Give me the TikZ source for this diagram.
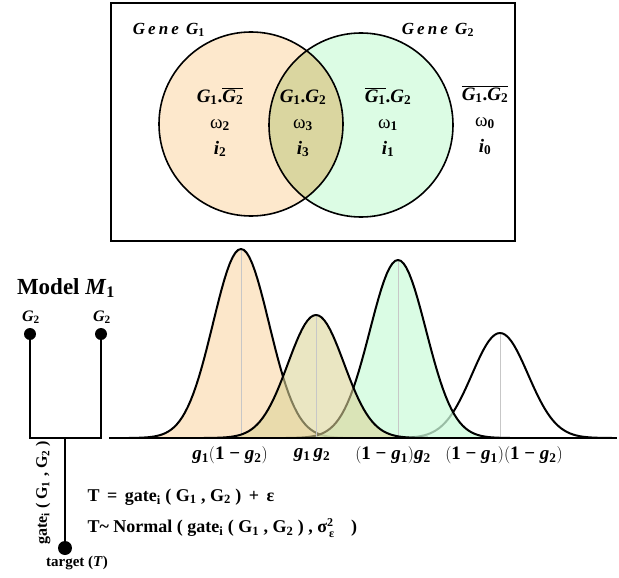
\documentclass[tikz,border=0pt]{standalone}
\usepackage{fontspec}
\setmainfont{Liberation Serif}
\usetikzlibrary{positioning}
\definecolor{peach}{RGB}{253,232,204}
\definecolor{mint}{RGB}{220,252,228}
\definecolor{olivemix}{RGB}{218,214,160}
\definecolor{bellpeach}{RGB}{252,231,202}
\definecolor{bellolive}{RGB}{220,212,152}
\definecolor{bellmint}{RGB}{205,251,219}
\newcommand{\bi}[1]{\textbf{\textit{#1}}}
\newcommand{\Gs}[1]{\bi{G}\textsubscript{\textup{\textbf{#1}}}}
\newcommand{\gs}[1]{\bi{g}\textsubscript{\textup{\textbf{#1}}}}
\newcommand{\opn}{$\bigl($}
\newcommand{\cls}{$\bigr)$}
\newcommand{\smallbf}{\fontsize{12}{12}\selectfont\bfseries}
\newcommand{\bellcurve}[3]{%
  \fill[#3] plot[variable=\t,domain=-4:4,samples=81] ({#1+28*\t},{438-#2*exp(-0.5*\t*\t)}) -- cycle;
  \draw[peak] (#1,438) -- (#1,{438-#2});
  \draw[bell] plot[variable=\t,domain=-4:4,samples=81] ({#1+28*\t},{438-#2*exp(-0.5*\t*\t)});}

\begin{document}
\begin{tikzpicture}[x=1pt,y=-1pt,
   ring/.style={line width=1.6pt},
   bell/.style={line width=2pt,line join=round},
   peak/.style={black!22,line width=0.6pt},
   tree/.style={line width=2.4pt},
   dot/.style={circle,fill=black,inner sep=0pt,minimum size=12pt},
   gene/.style={font=\fontsize{17}{19}\selectfont\bfseries\itshape\addfontfeatures{LetterSpace=18}},
   region/.style={font=\fontsize{19}{26}\selectfont\bfseries,align=center,anchor=base},
   tick/.style={font=\fontsize{19}{21}\selectfont\bfseries},
   eqn/.style={font=\fontsize{18}{20}\selectfont\bfseries,anchor=west}]
  \useasboundingbox (0,0) rectangle (619,578);

  \draw[ring] (111,3) rectangle (515,241);
  \fill[peach] (251,124) circle (92pt);
  \fill[mint] (361,125) circle (92pt);
  \begin{scope}
    \clip (251,124) circle (92pt);
    \fill[olivemix] (361,125) circle (92pt);
  \end{scope}
  \draw[ring] (251,124) circle (92pt);
  \draw[ring] (361,125) circle (92pt);

  \node[gene] (gene1) at (170,30) {Gene \Gs{1}};
  \node[gene] (gene2) at (439,30) {Gene \Gs{2}};
  \node[region] (s2) at (220,154) {\Gs{1}.$\overline{\hbox{\Gs{2}}}$\\ \textmd{ω}\textsubscript{2}\\ \bi{i}\textsubscript{2}};
  \node[region] (s3) at (303,154) {\Gs{1}.\Gs{2}\\ \textmd{ω}\textsubscript{3}\\ \bi{i}\textsubscript{3}};
  \node[region] (s1) at (388,154) {$\overline{\hbox{\Gs{1}}}$.\Gs{2}\\ \textmd{ω}\textsubscript{1}\\ \bi{i}\textsubscript{1}};
  \node[region] (s0) at (485,152) {$\overline{\hbox{\Gs{1}.\Gs{2}}}$\\ \textmd{ω}\textsubscript{0}\\ \bi{i}\textsubscript{0}};

  \bellcurve{500}{105}{white}
  \bellcurve{241}{189}{bellpeach}
  \bellcurve{398}{178}{bellmint,fill opacity=0.75}
  \bellcurve{316}{123}{bellolive,fill opacity=0.59}
  \draw[line width=2.2pt] (109,438) -- (617,438);

  \node[tick] (t2) at (230,455) {\gs{1}\opn\textbf{1 − }\gs{2}\cls};
  \node[tick] (t3) at (312,455) {\gs{1}\,\gs{2}};
  \node[tick] (t1) at (393,455) {\opn\textbf{1 − }\gs{1}\cls\gs{2}};
  \node[tick] (t0) at (504,455) {\opn\textbf{1 − }\gs{1}\cls\opn\textbf{1 − }\gs{2}\cls};

  \node[font=\fontsize{23}{25}\selectfont\bfseries] (model) at (66,288) {Model \bi{M}\textsubscript{1}};
  \node[dot] (leaf1) at (30,334) {};
  \node[dot] (leaf2) at (101,334) {};
  \node[font=\fontsize{16}{18}\selectfont] (g2a) at (31,317) {\Gs{2}};
  \node[font=\fontsize{16}{18}\selectfont] (g2b) at (102,317) {\Gs{2}};
  \coordinate (fork) at (65,438);
  \node[dot,minimum size=14pt] (target) at (65,548) {};
  \node[font=\fontsize{15}{17}\selectfont\bfseries] (tname) at (77,563) {target (\bi{T})};
  \draw[tree] (leaf1) -- (leaf1 |- fork) -- (leaf2 |- fork) -- (leaf2);
  \draw[tree] (fork) -- (target);
  \node[font=\fontsize{16}{18}\selectfont\bfseries,rotate=90] (gate) at (43,493) {gate\textsubscript{i} ( G\textsubscript{1} , G\textsubscript{2} )};

  \node[eqn] (eq1) at (84,497) {T \,=\, gate\textsubscript{i} ( G\textsubscript{1} , G\textsubscript{2} ) \,+\, ε};
  \node[eqn] (eq2) at (84,528) {T\textasciitilde\ Normal ( gate\textsubscript{i} ( G\textsubscript{1} , G\textsubscript{2} ) , $\hbox{σ}^{\hbox{\smallbf 2}}_{\hbox{\smallbf\,ε}}$\hspace{0.9em})};
\end{tikzpicture}
\end{document}
